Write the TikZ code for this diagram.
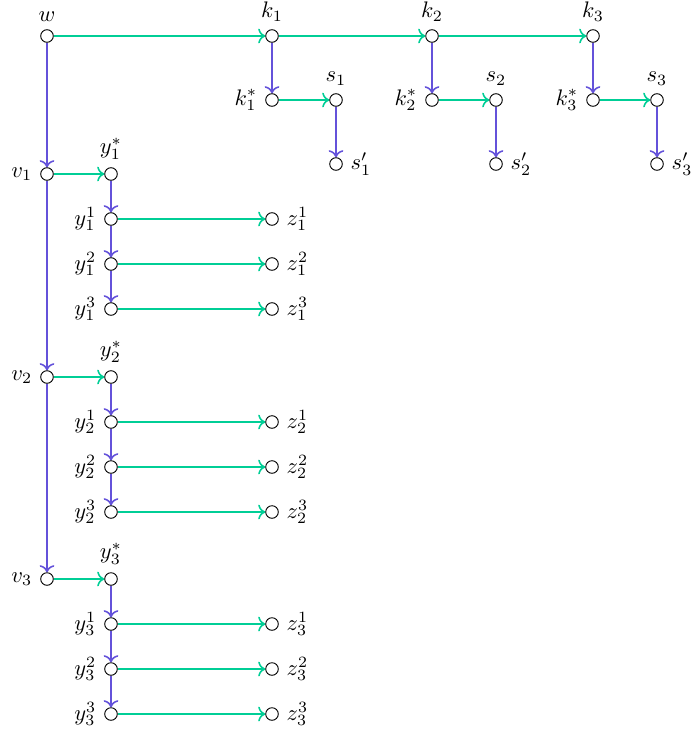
\documentclass[tikz,border=0pt]{standalone}
\usetikzlibrary{arrows.meta}
\definecolor{cgreen}{RGB}{0,206,150}
\definecolor{cblue}{RGB}{100,82,218}
\tikzset{
  pt/.style={circle,draw=black,line width=0.4pt,fill=white,minimum size=5.6pt,inner sep=0pt},
  garr/.style={->,draw=cgreen,line width=0.7pt},
  barr/.style={->,draw=cblue,line width=0.7pt},
}
\begin{document}
\begin{tikzpicture}[x=0.015625cm,y=-0.015625cm]
\useasboundingbox (0,0) rectangle (692,734);
\node[pt,label=above:$w$] (w) at (47,36) {};
\foreach \i/\kx in {1/272,2/432,3/593} {
  \node[pt,label=above:$k_\i$] (k\i) at (\kx,36) {};
  \node[pt,label=left:$k^*_\i$] (ks\i) at (\kx,100) {};
  \node[pt,label=above:$s_\i$] (s\i) at ({\kx+64},100) {};
  \node[pt,label=right:$s'_\i$] (sp\i) at ({\kx+64},164) {};
  \draw[barr] (k\i) -- (ks\i);
  \draw[garr] (ks\i) -- (s\i);
  \draw[barr] (s\i) -- (sp\i);
}
\draw[garr] (w) -- (k1);
\draw[garr] (k1) -- (k2);
\draw[garr] (k2) -- (k3);
\foreach \i/\vy in {1/174,2/377,3/579} {
  \node[pt,label=left:$v_\i$] (v\i) at (47,\vy) {};
  \node[pt,label=above:$y^*_\i$] (ys\i) at (111,\vy) {};
  \draw[garr] (v\i) -- (ys\i);
  \foreach \j in {1,2,3} {
    \node[pt,label=left:$y^\j_\i$] (y\i\j) at (111,{\vy+45*\j}) {};
    \node[pt,label=right:$z^\j_\i$] (z\i\j) at (272,{\vy+45*\j}) {};
    \draw[garr] (y\i\j) -- (z\i\j);
  }
  \draw[barr] (ys\i) -- (y\i1);
  \draw[barr] (y\i1) -- (y\i2);
  \draw[barr] (y\i2) -- (y\i3);
}
\draw[barr] (w) -- (v1);
\draw[barr] (v1) -- (v2);
\draw[barr] (v2) -- (v3);
\end{tikzpicture}
\end{document}
